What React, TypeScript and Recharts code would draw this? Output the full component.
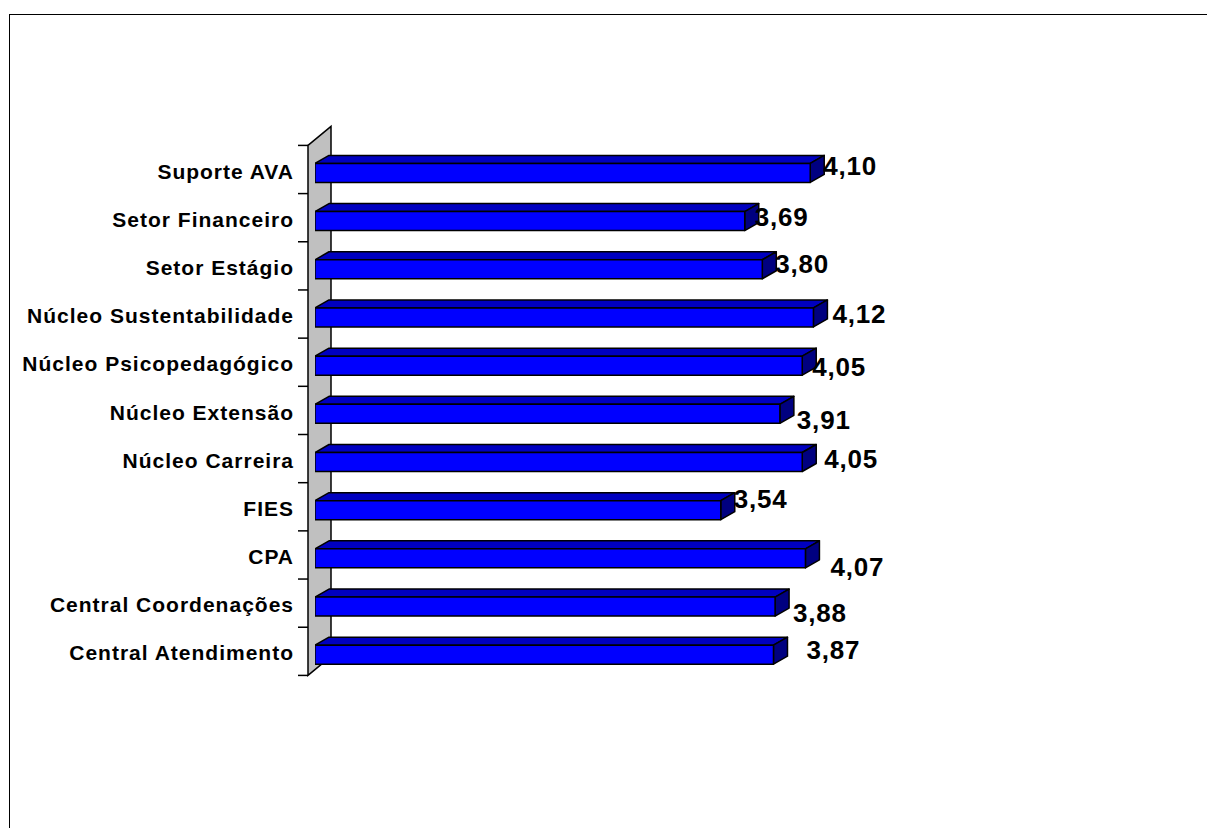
import { BarChart, Bar, XAxis, YAxis, LabelList } from 'recharts';

const names = [
  'Suporte AVA',
  'Setor Financeiro',
  'Setor Estágio',
  'Núcleo Sustentabilidade',
  'Núcleo Psicopedagógico',
  'Núcleo Extensão',
  'Núcleo Carreira',
  'FIES',
  'CPA',
  'Central Coordenações',
  'Central Atendimento',
];
const scores = [4.1, 3.69, 3.8, 4.12, 4.05, 3.91, 4.05, 3.54, 4.07, 3.88, 3.87];
const axisDomain = [1, 5];

// Excel places the 3D labels a little unevenly; small offsets from the bar end
const labelNudge = [
  [13, -7.5], [10, -4], [13, -6], [19, -4], [10, 1], [17, 5.5],
  [22, -3.5], [13, -11], [25, 8], [18, 6.5], [33, -5],
];

const data = names.map((name, i) => ({ name, score: scores[i] }));

const W = 1207;
const H = 828;
const MARGIN = { top: 145, right: 253, bottom: 153, left: 0 };
const AXIS_W = 315;
const BAR = 19;
const BAND = (H - MARGIN.top - MARGIN.bottom) / names.length;
const FONT = '"Liberation Sans", Arial, sans-serif';

// bar depth
const DX = 14;
const DZ = 8;
const SHIFT = 3.4;

function Bar3D(props: any) {
  const { x, y, width } = props;
  const top = y + SHIFT;
  const bot = top + BAR;
  const r = x + width;
  const st = { stroke: '#000', strokeWidth: 1.5, strokeLinejoin: 'round' as const };
  return (
    <g>
      <polygon points={`${x},${top} ${x + DX},${top - DZ} ${r + DX},${top - DZ} ${r},${top}`} fill="#0000c0" {...st} />
      <polygon points={`${r},${top} ${r + DX},${top - DZ} ${r + DX},${bot - DZ} ${r},${bot}`} fill="#000080" {...st} />
      <rect x={x} y={top} width={width} height={BAR} fill="#0000ff" {...st} />
    </g>
  );
}

function Wall(props: any) {
  const { x, y, height, index } = props;
  if (index !== 0) return <g />;
  const plotTop = y - (BAND - height) / 2;
  const plotBot = plotTop + BAND * names.length;
  const xf = x - 7;
  const xb = x + 16;
  const dz = 19;
  const ticks = names.map((_, i) => plotTop + i * BAND).concat(plotBot);
  return (
    <g>
      <polygon
        points={`${xf},${plotTop} ${xb},${plotTop - dz} ${xb},${plotBot - dz} ${xf},${plotBot}`}
        fill="#c0c0c0"
        stroke="#000"
        strokeWidth={1.5}
      />
      {ticks.map((t, i) => (
        <line key={i} x1={xf - 10} y1={t} x2={xf} y2={t} stroke="#000" strokeWidth={1.5} />
      ))}
    </g>
  );
}

function CategoryTick(props: any) {
  const { y, payload } = props;
  return (
    <text
      x={AXIS_W - 22 + 1}
      y={y + 9.5}
      textAnchor="end"
      fontFamily={FONT}
      fontWeight="bold"
      fontSize={21}
      letterSpacing={1}
      fill="#000"
    >
      {payload.value}
    </text>
  );
}

function ValueLabel(props: any) {
  const vb = props.viewBox || props;
  const x = props.x ?? vb.x;
  const y = props.y ?? vb.y;
  const width = props.width ?? vb.width;
  const i = props.index ?? 0;
  const [ndx, ndy] = labelNudge[i] || [12, 0];
  const cy = y + SHIFT + BAR / 2 + ndy;
  const fs = 26;
  return (
    <text
      x={x + width + ndx}
      y={cy + fs * 0.358}
      fontFamily={FONT}
      fontWeight="bold"
      fontSize={fs}
      letterSpacing={0.8}
      fill="#000"
    >
      {Number(props.value).toFixed(2).replace('.', ',')}
    </text>
  );
}

export default function App() {
  return (
    <div style={{ position: 'fixed', left: 0, top: 0, width: W, height: H, overflow: 'hidden', background: '#fff' }}>
      <div
        style={{
          position: 'absolute',
          left: 9,
          top: 14,
          width: 1400,
          height: 1000,
          borderLeft: '1px solid #000',
          borderTop: '1px solid #000',
        }}
      />
      <div style={{ position: 'absolute', left: 0, top: 0 }}>
        <BarChart width={W} height={H} data={data} layout="vertical" margin={MARGIN}>
          <XAxis type="number" domain={axisDomain} hide allowDataOverflow />
          <YAxis
            type="category"
            dataKey="name"
            width={AXIS_W}
            axisLine={false}
            tickLine={false}
            tickSize={0}
            tick={<CategoryTick />}
            interval={0}
          />
          <Bar
            dataKey="score"
            barSize={BAR}
            shape={<Bar3D />}
            background={(p: any) => <Wall {...p} />}
            isAnimationActive={false}
          >
            <LabelList dataKey="score" content={(p: any) => <ValueLabel {...p} />} />
          </Bar>
        </BarChart>
      </div>
    </div>
  );
}
